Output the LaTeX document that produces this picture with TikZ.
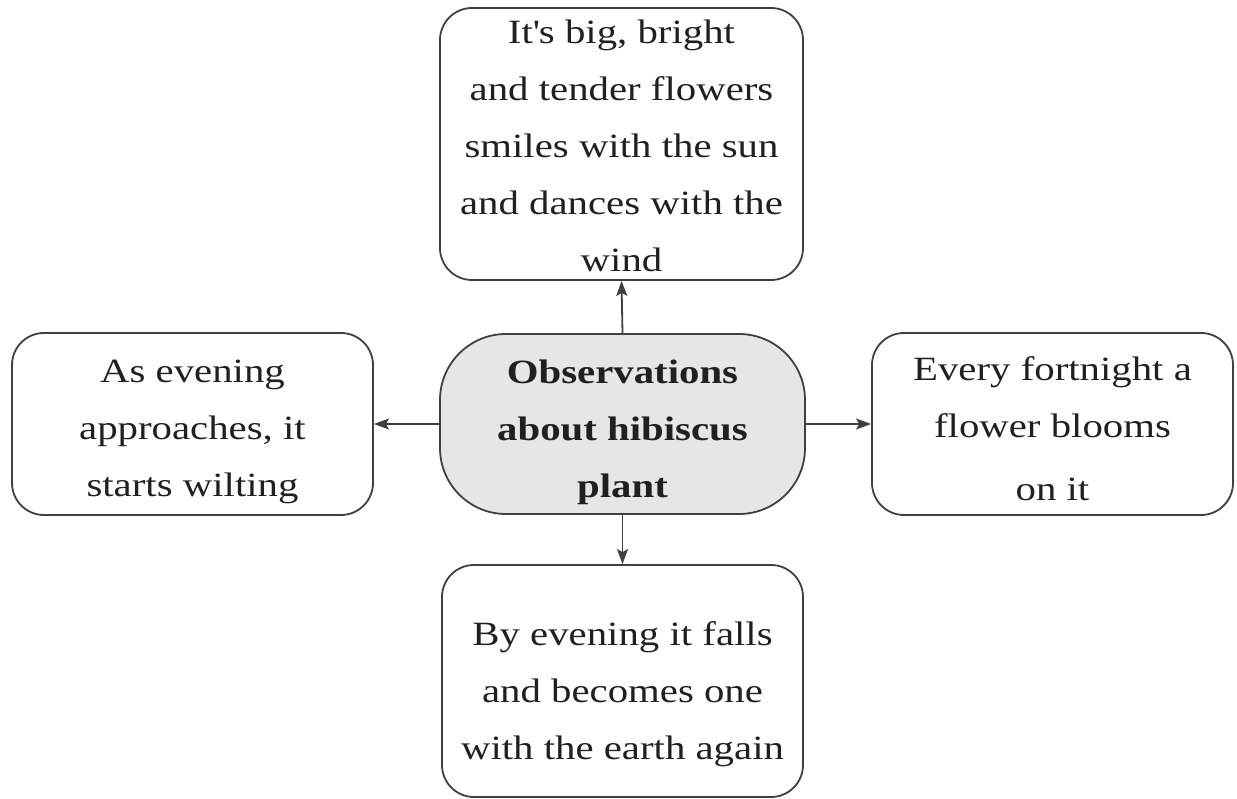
\documentclass[tikz,border=0pt]{standalone}
\usepackage{fontspec}
\setmainfont[FakeStretch=1.2]{Liberation Serif}
\usetikzlibrary{arrows.meta}
\definecolor{linec}{HTML}{404040}
\definecolor{textc}{HTML}{202020}
\definecolor{fillc}{HTML}{E6E6E6}
\newcommand{\topstrut}[1]{\rule{0pt}{#1pt}}
\begin{document}
\begin{tikzpicture}[x=1pt,y=-1pt,
  box/.style={draw=linec,line width=1.8pt,rounded corners=32pt,inner sep=0pt,
    align=center,text=textc,font=\fontsize{34}{57}\selectfont},
  hub/.style={box,fill=fillc,rounded corners=66pt,font=\fontsize{34}{57}\selectfont\bfseries},
  link/.style={draw=linec,line width=1.8pt,-{Stealth[length=15pt,width=11pt,inset=3pt]}}]
\useasboundingbox (0,0) rectangle (1237,799);
\node[hub,minimum width=365pt,minimum height=180pt] (c) at (622.5,424) {\topstrut{40}Observations\\about hibiscus\\plant};
\node[box,minimum width=363pt,minimum height=272pt] (t) at (621.5,144) {\topstrut{28}It\textquotesingle s big, bright\\and tender flowers\\smiles with the sun\\and dances with the\\wind};
\node[box,minimum width=361pt,minimum height=182pt] (l) at (192.5,424) {\topstrut{39}As evening\\approaches, it\\starts wilting};
\node[box,minimum width=361pt,minimum height=182pt] (r) at (1052.5,424) {\topstrut{34}Every fortnight a\\flower blooms\\[6pt]on it};
\node[box,minimum width=361pt,minimum height=232pt] (b) at (622.5,681) {\topstrut{50}By evening it falls\\and becomes one\\with the earth again};
\draw[link] (c.north) -- (t.south);
\draw[link] (c.west) -- (l.east);
\draw[link] (c.east) -- (r.west);
\draw[link] (c.south) -- (b.north);
\end{tikzpicture}
\end{document}
